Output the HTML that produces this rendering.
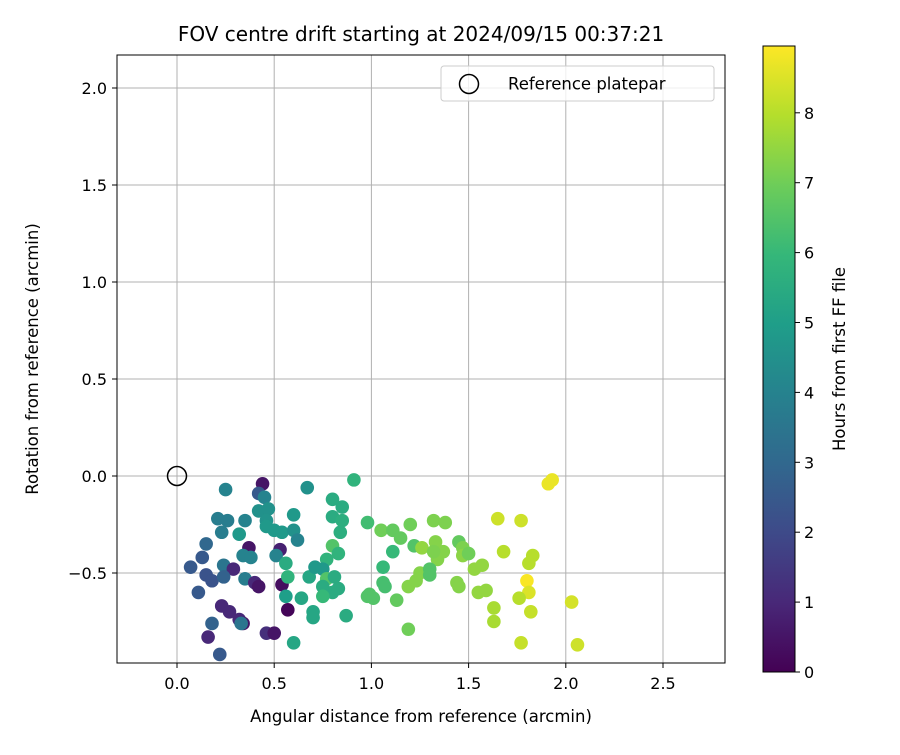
<!DOCTYPE html>
<html><head><meta charset="utf-8"><style>
body{margin:0;background:#fff}
svg text{font-family:"DejaVu Sans","Liberation Sans",sans-serif;fill:#000}
</style></head><body>
<svg id="chart" width="900" height="750" viewBox="0 0 900 750" xmlns="http://www.w3.org/2000/svg">
<rect width="900" height="750" fill="#fff"/>
<text x="421" y="41" font-size="20" text-anchor="middle">FOV centre drift starting at 2024/09/15 00:37:21</text>
<g id="grid"></g>
<g id="pts"></g>
<rect x="117" y="55" width="608" height="608" fill="none" stroke="#000" stroke-width="1"/>
<g id="ticks"></g>
<text x="421" y="722" font-size="16.5" text-anchor="middle">Angular distance from reference (arcmin)</text>
<text transform="translate(38,359) rotate(-90)" font-size="16.5" text-anchor="middle">Rotation from reference (arcmin)</text>
<g>
<rect x="441" y="66" width="273" height="35" rx="3" fill="#fff" fill-opacity="0.8" stroke="#ccc"/>
<circle cx="469" cy="84" r="9.5" fill="none" stroke="#000" stroke-width="1.5"/>
<text x="508" y="89.5" font-size="16.5">Reference platepar</text>
</g>
<defs><linearGradient id="vir" x1="0" y1="1" x2="0" y2="0" gradientUnits="objectBoundingBox"></linearGradient></defs>
<rect x="763" y="46" width="32" height="626" fill="url(#vir)" stroke="#000" stroke-width="1"/>
<g id="cbticks"></g>
<text transform="translate(845,359) rotate(-90)" font-size="16.5" text-anchor="middle">Hours from first FF file</text>
</svg>
<script>
const xVals=[.25,.44,.42,.45,.67,.91,.80,.85,.80,.85,.84,.80,.77,.83,.21,.26,.23,.32,.35,.42,.47,.46,.46,.50,.54,.60,.60,.62,.37,.53,.51,.15,.13,.07,.34,.38,.24,.29,.15,.18,.24,.35,.40,.42,.54,.56,.57,.56,.57,.64,.68,.71,.75,.77,.81,.75,.80,.83,.75,.70,.70,.87,.11,.23,.27,.32,.34,.33,.18,.16,.46,.50,.60,.22,.98,.98,1.93,1.91,1.05,1.11,1.15,1.20,1.32,1.38,1.11,1.22,1.26,1.33,1.37,1.34,1.32,1.45,1.47,1.47,1.50,1.06,1.06,1.07,.99,1.01,1.13,1.19,1.23,1.25,1.30,1.30,1.44,1.45,1.53,1.57,1.55,1.59,1.63,1.63,1.19,1.65,1.77,1.68,1.83,1.81,1.80,1.81,1.76,1.82,1.77,2.03,2.06];
const yVals=[-.07,-.04,-.09,-.11,-.06,-.02,-.12,-.16,-.21,-.23,-.29,-.36,-.43,-.40,-.22,-.23,-.29,-.30,-.23,-.18,-.17,-.23,-.26,-.28,-.29,-.20,-.28,-.33,-.37,-.38,-.41,-.35,-.42,-.47,-.41,-.42,-.46,-.48,-.51,-.54,-.52,-.53,-.55,-.57,-.56,-.45,-.52,-.62,-.69,-.63,-.52,-.47,-.48,-.53,-.52,-.57,-.60,-.58,-.62,-.70,-.73,-.72,-.60,-.67,-.70,-.74,-.76,-.76,-.76,-.83,-.81,-.81,-.86,-.92,-.24,-.62,-.02,-.04,-.28,-.28,-.32,-.25,-.23,-.24,-.39,-.36,-.37,-.34,-.39,-.43,-.39,-.34,-.37,-.41,-.40,-.47,-.55,-.57,-.61,-.63,-.64,-.57,-.54,-.50,-.48,-.51,-.55,-.57,-.48,-.46,-.60,-.59,-.68,-.75,-.79,-.22,-.23,-.39,-.41,-.45,-.54,-.60,-.63,-.70,-.86,-.65,-.87];
const hours=[4,.5,2.5,4,4.5,5.8,5.5,5.5,5.5,5.6,5.6,6.5,5.8,5.8,3.8,3.8,3.8,4.8,4,4.5,4.5,4.6,4.8,4.8,4.8,4.8,4.5,4,.5,.8,4,3,2.5,2.5,4,4,3.5,1,2.3,2.3,2.8,3.8,1,.5,.3,5.5,5.8,5,.1,5.3,5.3,4.8,4.8,6.5,5.5,5.5,5.5,5.5,6,5.3,5.3,5.5,2.5,1,1,1,.5,3.5,2.8,1,1.2,.5,5.3,2.5,6.2,6.5,8.7,8.7,7,6.8,6.8,7,7.2,7.2,6,6.5,7.5,7.3,7.3,7.3,7.2,6.8,7.2,7.4,7,6,6.3,6.3,6.5,6.5,6.8,7.3,7.3,7.3,6.5,6.5,7.3,7.3,7.5,7.5,7.5,7.5,7.8,7.8,7,8.3,8.3,8,8,8,8.9,8.5,8,8.2,8.2,8.4,8.3];
const xTicks=[0,0.5,1,1.5,2,2.5];
const yTicks=[-0.5,0,0.5,1,1.5,2];
const cTicks=[0,1,2,3,4,5,6,7,8];
const X=v=>177+v*194.4, Y=v=>476-v*194, C=h=>672-h*69.9, HMAX=8.96;
const vir=[[68,1,84],[72,40,120],[62,74,137],[49,104,142],[38,130,142],[31,158,137],[53,183,121],[109,205,89],[180,222,44],[253,231,37]];
function col(t){t=Math.max(0,Math.min(1,t))*9;const i=Math.min(8,Math.floor(t)),f=t-i,a=vir[i],b=vir[i+1];return 'rgb('+a.map((c,k)=>Math.round(c+(b[k]-c)*f)).join(',')+')';}
const NS='http://www.w3.org/2000/svg';
function mk(t,a,p){const e=document.createElementNS(NS,t);for(const k in a)e.setAttribute(k,a[k]);p.appendChild(e);return e;}
const grid=document.getElementById('grid'),ticks=document.getElementById('ticks'),pts=document.getElementById('pts'),cb=document.getElementById('cbticks');
xTicks.forEach(v=>{const x=X(v);
const g=mk('line',{x1:x,x2:x,y1:55,y2:663,stroke:'#b0b0b0','stroke-width':1},grid);


mk('line',{x1:x,x2:x,y1:663,y2:668,stroke:'#000'},ticks);
const t=mk('text',{x:x,y:689,'font-size':16,'text-anchor':'middle'},ticks);t.textContent=v.toFixed(1);

});
yTicks.forEach(v=>{const y=Y(v);
const g=mk('line',{x1:117,x2:725,y1:y,y2:y,stroke:'#b0b0b0','stroke-width':1},grid);


mk('line',{x1:112,x2:117,y1:y,y2:y,stroke:'#000'},ticks);
const t=mk('text',{x:107,y:y+6,'font-size':16,'text-anchor':'end'},ticks);t.textContent=(v<0?'\u2212'+(-v).toFixed(1):v.toFixed(1));

});
xVals.forEach((v,i)=>{const c=mk('circle',{cx:X(v),cy:Y(yVals[i]),r:6.8,fill:col(hours[i]/HMAX)},pts);

});
const ref=mk('circle',{cx:X(0),cy:Y(0),r:9.5,fill:'none',stroke:'#000','stroke-width':1.5},pts);


const gr=document.getElementById('vir');
vir.forEach((c,i)=>mk('stop',{offset:(i/9),'stop-color':'rgb('+c.join(',')+')'},gr));
cTicks.forEach(h=>{const y=C(h);mk('line',{x1:795,x2:800,y1:y,y2:y,stroke:'#000'},cb);
const t=mk('text',{x:804,y:y+6,'font-size':16},cb);t.textContent=h;

});
</script>
</body></html>
